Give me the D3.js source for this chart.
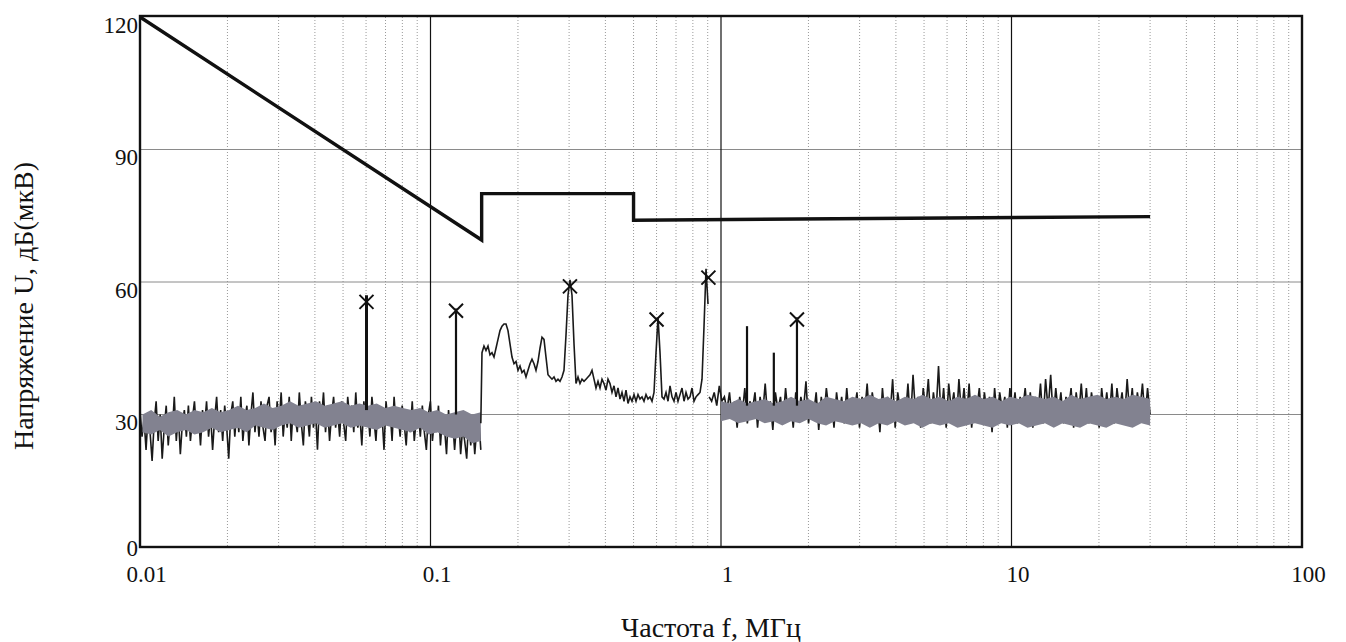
<!DOCTYPE html>
<html>
<head>
<meta charset="utf-8">
<script src="https://cdn.jsdelivr.net/npm/d3@7/dist/d3.min.js"></script>
<style>
  html, body { margin: 0; padding: 0; background: #fff; }
  svg { display: block; }
  text { font-family: "Liberation Serif", "DejaVu Serif", serif; fill: #111; }
</style>
</head>
<body>
<svg id="chart" width="1346" height="642"></svg>
<script>
// ---------------- DATA ----------------
const xTickValues = [0.01, 0.1, 1, 10, 100];
const xTickLabels = ["0.01", "0.1", "1", "10", "100"];
const yTickValues = [0, 30, 60, 90, 120];
const yTickLabels = ["0", "30", "60", "90", "120"];
const xTitle = "Частота f, МГц";
const yTitle = "Напряжение U, дБ(мкВ)";

// limit line (frequency MHz, level dB(µV))
const limitF = [0.01, 0.15, 0.15, 0.5, 0.5, 30];
const limitV = [120, 69.5, 80, 80, 74, 74.8];

// noise trace 0.01 .. 0.15 MHz (sampled evenly on log axis)
const seg1Range = [0.01, 0.149];
const seg1V = [31,25,29,22,30,26,19.5,28,33,24,30,20,27,32,23,29,26,34,24,30,21,28,31,25,32,24,29,33,26,30,
  23,31,27,33,25,30,22,29,34,26,31,24,32,27,20,30,33,25,31,26,34,24,29,32,23,30,35,26,31,25,
  33,27,24,32,34,26,30,23,33,28,35,25,31,27,34,24,32,29,26,35,28,23,33,30,25,34,27,31,22,33,
  29,35,26,32,24,30,34,27,31,25,33,28,24,34,29,32,26,35,27,30,23,33,28,31,25,34,29,24,32,27,
  30,22,33,28,31,24,34,27,30,25,32,28,23,31,26,33,24,29,31,25,32,26,22,30,33,24,29,26,32,23,
  30,27,21,31,25,29,22,28,30,21,27,24,20,29,23,28,21,27,29,22];

// trace 0.15 .. 0.9 MHz (sampled evenly on log axis)
const seg2Range = [0.1504, 0.9022];
const seg2V = [44,45.5,44.5,45.5,43.5,44,43,45,47,49,50,50.5,50.5,49,46,43,41.5,42,40,41,
  39.5,40,38.5,40,41.5,42.5,41.5,40,42,45,47.5,47,43,39,38.5,38,38.5,37.5,38,37.5,
  38.5,40,48,57,60.5,57,46,37,38.5,37,38,37.5,38,38.5,39,40,38,36,37.5,36,
  38,37,35.5,38,37,35,36.5,34,36,33.5,35,33,35.5,32.5,34,33,34.5,33,34.5,33.5,
  34,33,34.5,33.5,34,33,35,44,52,44,34,33.5,35,33,36.5,34,33,35,33,34.5,
  36,33,35,33.5,34,36,33,34,34.5,35,38,50,63,55];

// noise trace 0.91 .. 30 MHz (sampled evenly on log axis)
const seg3Range = [0.91, 30];
const seg3V = [34,33,35,32,36.5,33,34,31,35,29,33,27,34,30,36,28,33,31,35,27,34,30,37,29,33,26.5,35,31,34,28,
  36,30,33,27,35,29,34,31,37.5,28,33,30,35,26.5,34,29,36,31,33,27,35,30,34,28,36,29,33,31,35,27,
  34,30,37,28,35,31,33,26,36,29,34,30,38,27,35,31,33,29,37,28,39,30,34,27,36,31,38,28,35,30,
  41,29,36,27,37,31,35,28,38,30,36,29,37,27,34,31,36,28,35,30,34,26,36,29,35,31,34,27,36,30,
  35,28,34,31,36,29,35,27,34,30,37,28,38,31,39,29,36,30,35,28,34,31,36,27,35,30,37,29,36,28,
  35,31,34,27,36,30,35,29,37,28,36,31,35,29,38,30,36,28,35,31,37,29,36,30];

// grey dense band (envelope of the swept trace), sampled evenly on log axis
const band1Range = [0.0102, 0.149];
const band1Lo = [26,25.5,26.5,25,26,26.5,25.5,26,27,26,26.5,27,26,27.5,27,26.5,27.5,28,27,27.5,
  28,27,27.5,28,27,27.5,27,26.5,27.5,27,26.5,26,27,25.5,26,25,24.5,25,23.5,24];
const band1Hi = [30,31,29.5,30.5,31,30,31,30.5,31.5,30.5,31,32,31,31.5,32.5,31.5,32,33,32,32.5,
  33,32,32.5,33,32,32.5,32,32.5,31.5,32,31.5,31,31.5,30.5,31,30,30.5,31,30,30.5];
const band3Range = [1.0, 30];
const band3Lo = [28.5,29,28,28.5,29,28,28.5,27.5,28.5,28,29,28,27.5,28.5,28,27.5,28,27,28,27.5,
  28.5,27.5,28,27,28,27.5,28,27,27.5,28,27.5,27,28,27.5,28,27,27.5,28,27,28,
  27.5,27,28,27.5,27,28,27.5,27,28,27.5];
const band3Hi = [33,32.5,33.5,32.5,33,33.5,32.5,33,34,33,33.5,32.5,34,33.5,33,34,33.5,34.5,33.5,34,
  33,34,33.5,34.5,33.5,34,33,34,33.5,34.5,33.5,34,33,34,33.5,34.5,34,33.5,34,33,
  34.5,33.5,34,34.5,33.5,34,33.5,34.5,34,33.5];

// narrow spikes rising from the noise floor
const spikeF    = [0.0602, 0.1224, 1.229, 1.52, 1.826];
const spikeBase = [31, 30, 32, 32, 32];
const spikeTop  = [57, 54, 50, 44, 52];

// marked peaks (×)
const markF = [0.0602, 0.1224, 0.302, 0.6, 0.905, 1.826];
const markV = [55.5, 53.5, 59, 51.5, 61, 51.5];

// ---------------- CHART ----------------
const svg = d3.select("#chart");
const L = 140, R = 1302, T = 17, B = 547;
const x = d3.scaleLog().domain([0.01, 100]).range([L, R]);
const y = d3.scaleLinear().domain([0, 120]).range([B, T]);

function sampleFreqs(range, n) {
  const a = Math.log10(range[0]), b = Math.log10(range[1]);
  return d3.range(n).map(i => Math.pow(10, a + (b - a) * i / (n - 1)));
}

// grid: minor verticals
const minor = [];
[0.01, 0.1, 1, 10].forEach(d => { for (let k = 2; k <= 9; k++) minor.push(d * k); });
svg.append("g").selectAll("line").data(minor).join("line")
  .attr("x1", d => x(d)).attr("x2", d => x(d)).attr("y1", T).attr("y2", B)
  .attr("stroke", "#9a9a9a").attr("stroke-width", 1).attr("stroke-dasharray", "1,2");
// horizontal grid
svg.append("g").selectAll("line").data([30, 60, 90]).join("line")
  .attr("x1", L).attr("x2", R).attr("y1", d => y(d)).attr("y2", d => y(d))
  .attr("stroke", "#8a8a8a").attr("stroke-width", 1);
// decade lines
svg.append("g").selectAll("line").data([0.1, 1, 10]).join("line")
  .attr("x1", d => x(d)).attr("x2", d => x(d)).attr("y1", T).attr("y2", B)
  .attr("stroke", "#111").attr("stroke-width", 1.2);

const line = d3.line().x(d => x(d[0])).y(d => y(d[1]));

// black noise traces
const s1 = sampleFreqs(seg1Range, seg1V.length).map((f, i) => [f, seg1V[i]]);
const s2 = sampleFreqs(seg2Range, seg2V.length).map((f, i) => [f, seg2V[i]]);
const s3 = sampleFreqs(seg3Range, seg3V.length).map((f, i) => [f, seg3V[i]]);
svg.append("path").attr("d", line(s1)).attr("fill", "none").attr("stroke", "#1a1a1a").attr("stroke-width", 1.6);
svg.append("path").attr("d", line(s3)).attr("fill", "none").attr("stroke", "#1a1a1a").attr("stroke-width", 1.6);

// grey bands
const area = d3.area().x(d => x(d.f)).y0(d => y(d.lo)).y1(d => y(d.hi));
const b1 = sampleFreqs(band1Range, band1Lo.length).map((f, i) => ({ f, lo: band1Lo[i], hi: band1Hi[i] }));
const b3 = sampleFreqs(band3Range, band3Lo.length).map((f, i) => ({ f, lo: band3Lo[i], hi: band3Hi[i] }));
svg.append("path").attr("d", area(b1)).attr("fill", "#828290");
svg.append("path").attr("d", area(b3)).attr("fill", "#828290");

// connection from band into middle trace + middle trace
const s2full = [[seg1Range[1], 28]].concat(s2);
svg.append("path").attr("d", line(s2full)).attr("fill", "none").attr("stroke", "#1a1a1a").attr("stroke-width", 1.6);

// spikes
svg.append("g").selectAll("line").data(spikeF).join("line")
  .attr("x1", d => x(d)).attr("x2", d => x(d))
  .attr("y1", (d, i) => y(spikeBase[i])).attr("y2", (d, i) => y(spikeTop[i]))
  .attr("stroke", "#111").attr("stroke-width", (d, i) => i === 0 ? 3 : 2.2);

// markers
const ms = 7;
svg.append("g").selectAll("path").data(markF).join("path")
  .attr("d", (d, i) => {
    const cx = x(d), cy = y(markV[i]);
    return `M${cx - ms},${cy - ms}L${cx + ms},${cy + ms}M${cx - ms},${cy + ms}L${cx + ms},${cy - ms}`;
  })
  .attr("stroke", "#111").attr("stroke-width", 2).attr("fill", "none");

// limit line
const lim = limitF.map((f, i) => [f, limitV[i]]);
svg.append("path").attr("d", line(lim)).attr("fill", "none")
  .attr("stroke", "#111").attr("stroke-width", 3.4).attr("stroke-linejoin", "miter");

// frame
svg.append("rect").attr("x", L).attr("y", T - 1).attr("width", R - L).attr("height", B - T + 1)
  .attr("fill", "none").attr("stroke", "#111").attr("stroke-width", 2.4);

// axes labels
const xAxis = d3.axisBottom(x).tickValues(xTickValues)
  .tickFormat((d, i) => xTickLabels[i]).tickSize(0).tickPadding(0);
const gx = svg.append("g").attr("transform", `translate(0,${B})`).call(xAxis);
gx.select(".domain").remove();
gx.selectAll("text").attr("font-size", 23).attr("dx", 6).attr("y", 35).attr("dy", 0)
  .style("font-family", "'Liberation Serif', serif").attr("fill", "#111");

const yAxis = d3.axisLeft(y).tickValues(yTickValues)
  .tickFormat((d, i) => yTickLabels[i]).tickSize(0).tickPadding(2);
const gy = svg.append("g").attr("transform", `translate(${L},0)`).call(yAxis);
gy.select(".domain").remove();
gy.selectAll("text").attr("font-size", 23).attr("dy", d => d === 0 ? 8 : 15)
  .style("font-family", "'Liberation Serif', serif").attr("fill", "#111");

// titles
svg.append("text").attr("x", 711).attr("y", 637).attr("text-anchor", "middle")
  .attr("font-size", 28).text(xTitle);
svg.append("text").attr("transform", "translate(33,306) rotate(-90)")
  .attr("text-anchor", "middle").attr("font-size", 28).text(yTitle);
</script>
</body>
</html>
